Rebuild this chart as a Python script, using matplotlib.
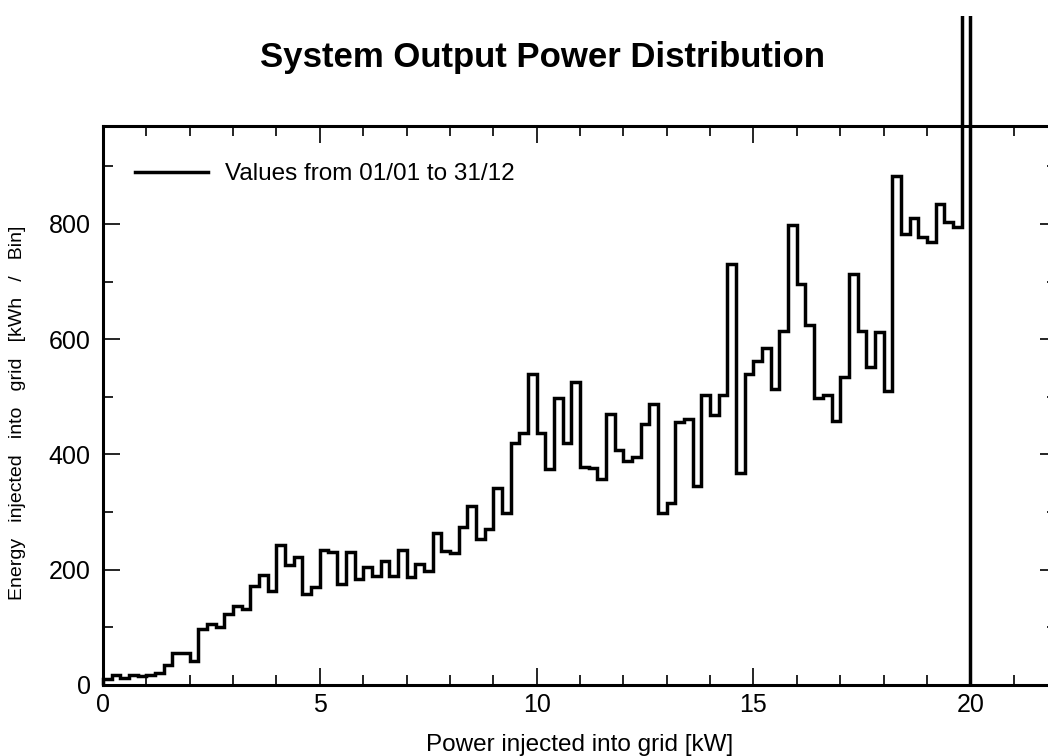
import numpy as np
import matplotlib
matplotlib.use("Agg")
import matplotlib.pyplot as plt
from matplotlib.lines import Line2D
from matplotlib.transforms import Bbox, TransformedBbox
from matplotlib.ticker import MultipleLocator

plt.rcParams["font.family"] = ["Liberation Sans", "DejaVu Sans"]

# Energy per 0.2 kW bin [kWh], bins from 0 to 20 kW
bin_width = 0.2
energy = [
    10, 17, 13, 18, 15, 18, 21, 34, 55, 55,
    41, 98, 106, 101, 124, 137, 132, 171, 191, 163,
    243, 208, 222, 158, 170, 235, 230, 175, 230, 184,
    204, 190, 216, 190, 235, 187, 210, 197, 264, 233,
    229, 275, 310, 253, 271, 341, 298, 420, 437, 539,
    437, 375, 498, 420, 525, 379, 376, 357, 470, 407,
    388, 396, 453, 487, 298, 316, 456, 462, 345, 504,
    469, 504, 730, 368, 539, 562, 584, 513, 615, 799,
    696, 624, 498, 504, 458, 535, 713, 614, 552, 612,
    510, 883, 783, 810, 778, 769, 835, 804, 794, 1400,
]
edges = np.arange(len(energy) + 1) * bin_width

title = "System Output Power Distribution"
legend_label = "Values from 01/01 to 31/12"
xlabel = "Power injected into grid [kW]"
ylabel = "Energy   injected   into   grid   [kWh   /   Bin]"

W, H = 1048, 756
fig = plt.figure(figsize=(W / 100, H / 100), dpi=100)
ax = fig.add_axes([103 / W, 1 - 685 / H, (1057 - 103) / W, (685 - 126) / H])

# histogram outline; the last bin runs off the top of the axes
hist = ax.stairs(energy, edges, fill=False, color="black", linewidth=2.5,
                 baseline=0, zorder=3)
hist.set_clip_box(TransformedBbox(Bbox([[0, 0], [1, 1 - 16 / H]]), fig.transFigure))
hist.set_joinstyle("miter")

ax.set_xlim(0, 22)
ax.set_ylim(0, 970)
ax.xaxis.set_major_locator(MultipleLocator(5))
ax.xaxis.set_minor_locator(MultipleLocator(1))
ax.yaxis.set_major_locator(MultipleLocator(200))
ax.yaxis.set_minor_locator(MultipleLocator(100))
ax.tick_params(which="both", direction="in", top=True, right=True,
               width=1.2, colors="black", labelsize=18)
ax.tick_params(which="major", length=12)
ax.tick_params(which="minor", length=7)
ax.tick_params(axis="x", pad=6)
ax.tick_params(axis="y", pad=9)
for s in ax.spines.values():
    s.set_linewidth(2.2)

fig.text(580 / W, 1 - 745 / H, xlabel, fontsize=17.5, ha="center", va="center")
fig.text(18 / W, 1 - 413 / H, ylabel, rotation=90, fontsize=14,
         ha="center", va="center")

fig.text(542 / W, 1 - 57 / H, title, fontsize=25, fontweight="bold",
         ha="center", va="center")

handle = Line2D([], [], color="black", linewidth=2.5)
ax.legend([handle], [legend_label], loc="center left", frameon=False,
          fontsize=17.5, handlelength=3.0, handletextpad=0.7,
          borderpad=0, borderaxespad=0,
          bbox_to_anchor=((135 - 103) / 954, (685 - 174) / 559))

fig.savefig("out.png", dpi=100)
